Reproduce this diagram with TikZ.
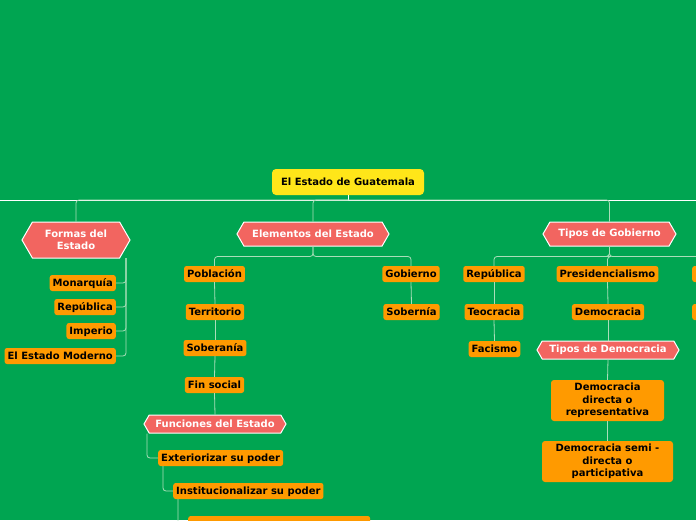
\documentclass[tikz,border=0pt]{standalone}
\usepackage{fontspec}
\setmainfont{DejaVu Sans}
\usetikzlibrary{calc,positioning,shapes.symbols}
\definecolor{fondo}{RGB}{0,165,81}
\definecolor{raizc}{RGB}{255,230,25}
\definecolor{temac}{RGB}{242,101,96}
\definecolor{hojac}{RGB}{255,154,0}
\definecolor{lineac}{RGB}{170,222,185}
\newcommand{\letra}{\bfseries\fontsize{10}{12.3}\selectfont}
\tikzset{
  raiz/.style={fill=raizc,rounded corners=4pt,font=\letra,minimum width=152pt,minimum height=26pt,inner sep=0pt},
  tema/.style={signal,signal to=west and east,signal pointer angle=120,draw=white,line width=1pt,fill=temac,text=white,font=\letra,align=center,inner sep=0pt},
  hoja/.style={fill=hojac,rounded corners=2.5pt,font=\letra,minimum height=16pt,inner xsep=3pt,inner ysep=0pt,text height=7.5pt,text depth=1.5pt},
  hojaalta/.style={fill=hojac,rounded corners=3pt,font=\letra,align=center,inner sep=0pt},
  enlace/.style={draw=lineac,line width=0.8pt,rounded corners=3pt},
  eje/.style={draw=white,line width=1pt}
}

\begin{document}
\begin{tikzpicture}[x=1pt,y=-1pt]
	\useasboundingbox (0,0) rectangle (696,520);
	\fill[fondo] (0,0) rectangle (696,520);
	\clip (0,0) rectangle (696,520);
	\coordinate (ejeI) at (0,200);
	\coordinate (ejeD) at (696,200);
	\coordinate (ftronco) at (126,258);
	% raiz y temas
	\node[raiz] (raiz) at (348,182) {El Estado de Guatemala};
	\node[tema,minimum width=108pt,minimum height=36pt] (formas) at (76,240) {Formas del\\Estado};
	\node[tema,minimum width=152pt,minimum height=24pt] (elementos) at (313,234) {Elementos del Estado};
	\node[tema,minimum width=133pt,minimum height=24pt] (tiposgob) at (609.5,234) {Tipos de Gobierno};
	% formas del estado
	\node[hoja,anchor=east] (monarquia) at (116,283) {Monarquía};
	\node[hoja,anchor=east] (republica) at (116,307) {República};
	\node[hoja,anchor=east] (imperio) at (116,331) {Imperio};
	\node[hoja,anchor=east] (moderno) at (116,356) {El Estado Moderno};
	% elementos del estado
	\node[hoja] (poblacion) at (214.5,274) {Población};
	\node[hoja] (territorio) at (215,312) {Territorio};
	\node[hoja] (soberania) at (215,348) {Soberanía};
	\node[hoja] (finsocial) at (214.5,385) {Fin social};
	\node[tema,minimum width=142pt,minimum height=18pt] (funciones) at (215,424) {Funciones del Estado};
	\node[hoja,anchor=west] (exterior) at (158,458) {Exteriorizar su poder};
	\node[hoja,anchor=west] (instit) at (173,491) {Institucionalizar su poder};
	\node[hoja,anchor=west,minimum width=182pt] (tercera) at (188,524) {};
	\node[hoja] (gobierno) at (411,274) {Gobierno};
	\node[hoja] (soberna) at (411.5,312) {Sobernía};
	% tipos de gobierno
	\node[hoja] (republicab) at (494,274) {República};
	\node[hoja] (teocracia) at (494,312) {Teocracia};
	\node[hoja] (facismo) at (494.5,349) {Facismo};
	\node[hoja] (presid) at (607.5,274) {Presidencialismo};
	\node[hoja] (democracia) at (608,312) {Democracia};
	\node[hoja,anchor=west,minimum width=60pt] (derA) at (692,274) {};
	\node[hoja,anchor=west,minimum width=60pt] (derB) at (692,312) {};
	\node[tema,minimum width=142pt,minimum height=18pt] (tiposdem) at (608,350) {Tipos de Democracia};
	\node[hojaalta,minimum width=113pt,minimum height=41pt] (dema) at (607.5,400.5) {Democracia\\directa o\\representativa};
	\node[hojaalta,minimum width=131pt,minimum height=41pt] (demb) at (607.5,461.5) {Democracia semi -\\directa o\\participativa};
	% enlaces
	\draw[eje] (ejeI) -- (ejeD);
	\draw[eje] (raiz.south) -- (raiz.south |- ejeI);
	\draw[enlace] (raiz.south |- ejeI) -| (formas.north);
	\draw[enlace] (raiz.south |- ejeI) -| (elementos.north);
	\draw[enlace] (raiz.south |- ejeI) -| (tiposgob.north);
	\foreach \h in {monarquia,republica,imperio,moderno}
		\draw[enlace] (ftronco) |- (\h.east);
	\draw[enlace] (elementos.south) -- ++(0,10) -| (poblacion.north);
	\draw[enlace] (elementos.south) -- ++(0,10) -| (gobierno.north);
	\draw[enlace] (poblacion.south) -- (territorio.north);
	\draw[enlace] (territorio.south) -- (soberania.north);
	\draw[enlace] (soberania.south) -- (finsocial.north);
	\draw[enlace] (finsocial.south) -- (funciones.north);
	\draw[enlace] (gobierno.south) -- (soberna.north);
	\draw[enlace] ($(funciones.south)+(-68,0)$) |- (exterior.west);
	\draw[enlace] ($(exterior.south west)+(5,0)$) |- (instit.west);
	\draw[enlace] ($(instit.south west)+(5,0)$) |- (tercera.west);
	\draw[enlace] (tiposgob.south) -- ++(0,10) -| (republicab.north);
	\draw[enlace] (tiposgob.south) -- ++(0,10) -| (presid.north);
	\draw[enlace] (tiposgob.south) -- ++(0,10) -| (derA.north);
	\draw[enlace] (republicab.south) -- (teocracia.north);
	\draw[enlace] (teocracia.south) -- (facismo.north);
	\draw[enlace] (presid.south) -- (democracia.north);
	\draw[enlace] (derA.south) -- (derB.north);
	\draw[enlace] (democracia.south) -- (tiposdem.north);
	\draw[enlace] (tiposdem.south) -- (dema.north);
	\draw[enlace] (dema.south) -- (demb.north);
\end{tikzpicture}
\end{document}
